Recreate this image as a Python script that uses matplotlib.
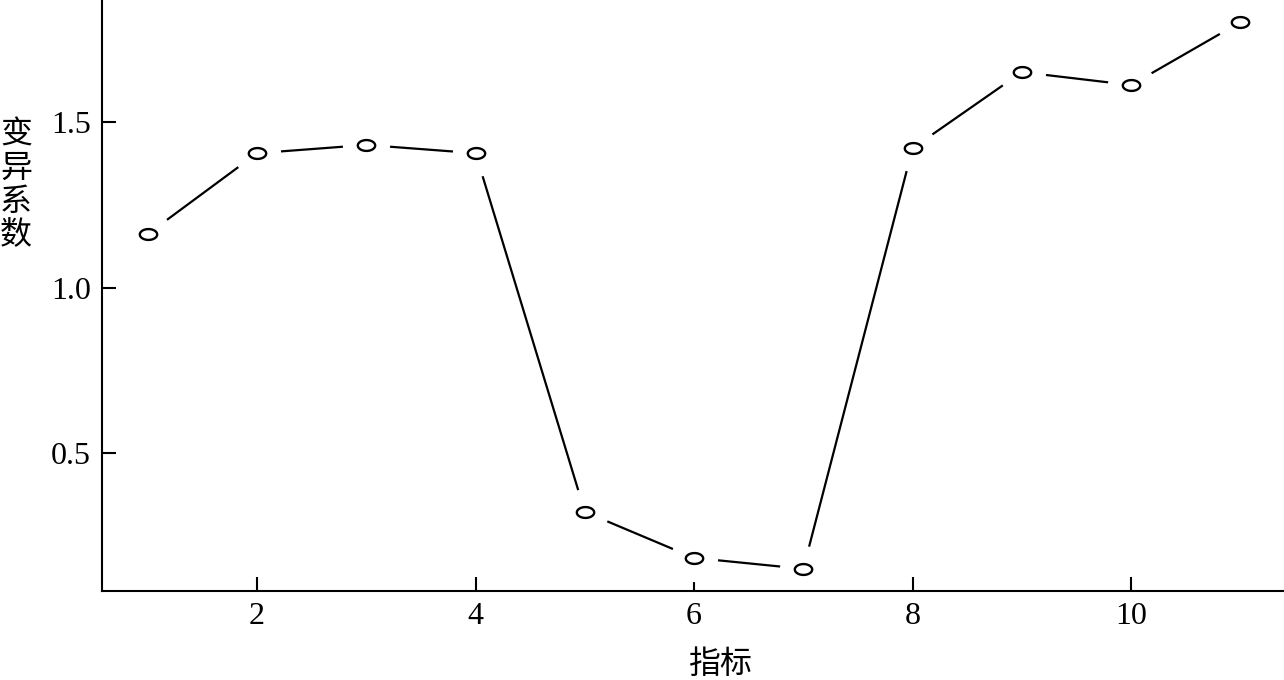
import numpy as np
import matplotlib.pyplot as plt
from matplotlib.path import Path

# values
indicator = [1, 2, 3, 4, 5, 6, 7, 8, 9, 10, 11]
cv = [1.162, 1.406, 1.431, 1.406, 0.322, 0.183, 0.150, 1.421, 1.651, 1.612, 1.802]
xticks = [2, 4, 6, 8, 10]
yticks = [0.5, 1.0, 1.5]

plt.rcParams['font.family'] = ['Liberation Serif', 'Noto Sans CJK SC']
cjk = ['Noto Sans CJK SC', 'DejaVu Sans']

# flat open circle like the R points in the original
t = np.linspace(0, 2 * np.pi, 60)
ellipse = Path(np.column_stack([np.cos(t) * 1.6, np.sin(t)]), closed=True)


def main():
   fig = plt.figure(figsize=(12.84, 6.8), dpi=100)
   ax = fig.add_axes([102 / 1284, 89 / 680, 1 - 102 / 1284, 1 - 89 / 680])

   # type="b": line with gaps around the points
   ax.plot(indicator, cv, color='black', lw=1.6, zorder=2.1)
   ax.plot(indicator, cv, ls='none', marker='o', ms=34, mfc='white',
           mec='none', zorder=2.2)
   ax.plot(indicator, cv, ls='none', marker=ellipse, ms=12.5, mfc='white',
           mec='black', mew=1.7, zorder=2.3)

   ax.set_xlim(0.58, 11.40)
   ax.set_ylim(0.083, 1.869)
   ax.set_xticks(xticks)
   ax.set_yticks(yticks)
   ax.set_xticklabels([str(v) for v in xticks])
   ax.set_yticklabels([f'{v:.1f}' for v in yticks])
   ax.tick_params(direction='in', length=10, width=1.5, labelsize=23,
                  pad=8, colors='black')

   for side in ['top', 'right']:
      ax.spines[side].set_visible(False)
   for side in ['left', 'bottom']:
      ax.spines[side].set_linewidth(1.5)

   fig.text(720 / 1284, 1 - 664 / 680, '指标', family=cjk, fontsize=23,
            ha='center', va='center')
   fig.text(16 / 1284, 1 - 185 / 680, '变\n异\n系\n数', family=cjk,
            fontsize=23, ha='center', va='center', linespacing=1.06)

   fig.savefig('out.png', dpi=100)


if __name__ == '__main__': main()
